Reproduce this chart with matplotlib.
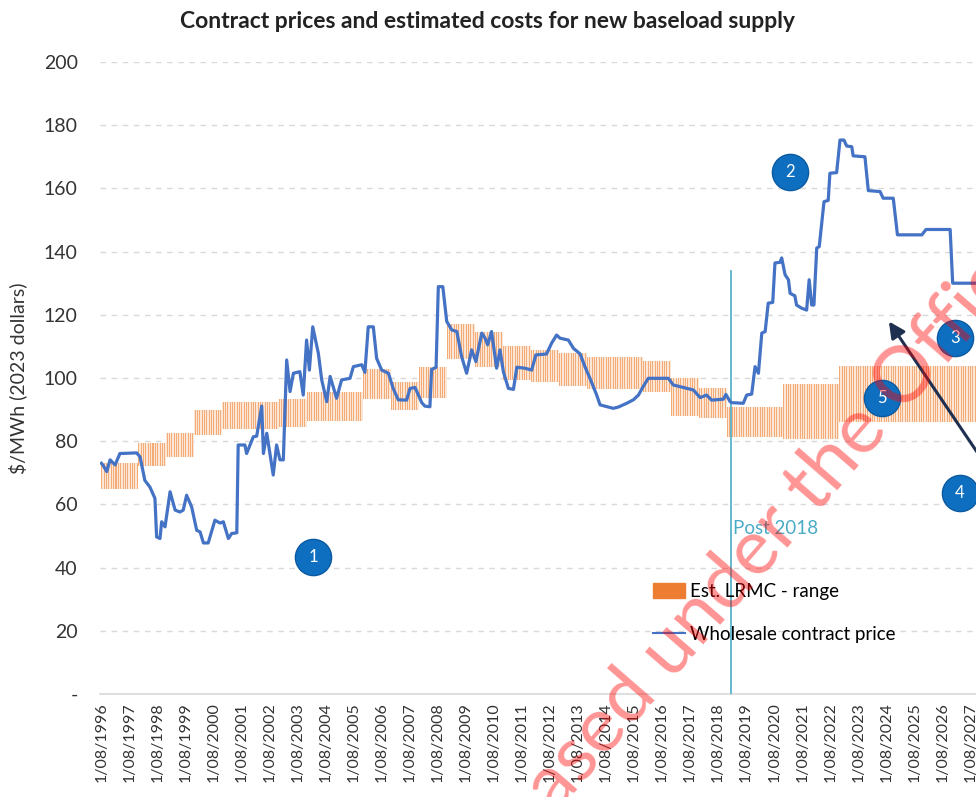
import numpy as np
import matplotlib
matplotlib.use("Agg")
import matplotlib.pyplot as plt
from matplotlib.patches import Patch
from matplotlib.lines import Line2D

plt.rcParams['font.family'] = ['Lato', 'DejaVu Sans']

# ---- wholesale contract price (year as decimal, $/MWh 2023)
price_t = [1996.58, 1996.63, 1996.77, 1996.89, 1997.07, 1997.24, 1997.84, 1997.96, 1998.13, 1998.31,
           1998.49, 1998.55, 1998.67, 1998.73, 1998.85, 1999.03, 1999.21, 1999.38, 1999.50, 1999.62,
           1999.80, 1999.98, 2000.10, 2000.22, 2000.39, 2000.63, 2000.81, 2000.93, 2001.11, 2001.23,
           2001.41, 2001.46, 2001.70, 2001.76, 2002.00, 2002.12, 2002.30, 2002.36, 2002.48, 2002.59,
           2002.71, 2002.83, 2002.95, 2003.07, 2003.19, 2003.31, 2003.43, 2003.66, 2003.78, 2003.90,
           2004.00, 2004.12, 2004.32, 2004.44, 2004.62, 2004.74, 2004.97, 2005.15, 2005.45, 2005.57,
           2005.87, 2005.98, 2006.10, 2006.28, 2006.40, 2006.58, 2006.82, 2006.99, 2007.17, 2007.47,
           2007.59, 2007.77, 2007.89, 2008.01, 2008.12, 2008.30, 2008.36, 2008.52, 2008.60, 2008.76,
           2008.90, 2009.08, 2009.26, 2009.43, 2009.61, 2009.79, 2009.94, 2010.15, 2010.27, 2010.36,
           2010.50, 2010.68, 2010.80, 2010.92, 2011.10, 2011.28, 2011.40, 2011.69, 2011.93, 2012.08,
           2012.46, 2012.64, 2012.82, 2012.94, 2013.24, 2013.42, 2013.66, 2013.83, 2014.01, 2014.25,
           2014.37, 2014.84, 2015.02, 2015.32, 2015.56, 2015.74, 2015.89, 2016.09, 2016.81, 2016.98,
           2017.34, 2017.70, 2017.94, 2018.17, 2018.35, 2018.77, 2018.86, 2019.01, 2019.07, 2019.48,
           2019.60, 2019.78, 2019.90, 2020.02, 2020.14, 2020.26, 2020.37, 2020.53, 2020.61, 2020.79,
           2020.85, 2020.97, 2021.09, 2021.15, 2021.32, 2021.38, 2021.56, 2021.74, 2021.83, 2021.92,
           2022.00, 2022.10, 2022.19, 2022.36, 2022.51, 2022.57, 2022.81, 2022.93, 2023.07, 2023.17,
           2023.35, 2023.40, 2023.82, 2023.94, 2024.36, 2024.47, 2024.83, 2024.98, 2025.85, 2026.00,
           2026.86, 2026.95, 2028.50]
price_v = [73.0, 72.5, 70.4, 74.1, 72.5, 76.1, 76.3, 75.0, 67.6, 65.5,
           61.9, 49.7, 49.2, 54.5, 52.9, 64.0, 58.2, 57.6, 58.2, 62.9,
           59.2, 51.8, 51.3, 47.8, 47.8, 55.0, 54.1, 54.5, 49.2, 50.8,
           51.0, 78.8, 78.8, 76.1, 81.4, 81.6, 91.1, 76.1, 82.5, 76.1,
           69.3, 78.8, 74.1, 74.1, 105.7, 95.7, 101.5, 102.0, 94.6, 112.0,
           102.5, 116.2, 107.8, 99.4, 92.5, 100.5, 93.6, 99.4, 99.9, 103.6,
           104.2, 101.8, 116.2, 116.2, 106.2, 102.5, 101.5, 96.7, 93.1, 93.0,
           96.7, 97.0, 94.6, 92.2, 91.1, 90.9, 102.7, 103.4, 128.9, 128.9,
           117.9, 115.2, 114.7, 106.8, 101.5, 108.9, 105.2, 114.2, 112.6, 110.5,
           114.7, 103.1, 108.9, 102.0, 96.7, 96.4, 103.4, 103.1, 102.5, 107.3,
           107.6, 111.0, 113.6, 112.6, 112.0, 109.4, 107.6, 103.6, 99.9, 94.6,
           91.5, 90.4, 90.8, 92.0, 93.1, 94.6, 97.0, 99.9, 99.9, 97.8,
           97.0, 96.2, 93.8, 94.6, 93.0, 93.3, 94.8, 92.5, 92.2, 92.0,
           94.6, 94.9, 103.6, 101.5, 114.2, 114.7, 123.7, 123.9, 136.4, 136.6,
           138.0, 132.7, 131.1, 126.8, 126.0, 123.1, 122.1, 121.5, 131.1, 123.1,
           123.1, 141.1, 141.6, 155.8, 156.2, 164.8, 165.0, 175.3, 175.3, 173.4,
           173.2, 170.3, 170.0, 159.3, 159.0, 156.9, 156.9, 145.3, 145.3, 147.0,
           147.0, 130.0, 130.0]

# ---- estimated LRMC range, by period
lrmc_start = [1996.58, 1997.9, 1998.9, 1999.9, 2000.9, 2002.9, 2003.9, 2005.9, 2006.9, 2007.9, 2008.9,
              2009.9, 2010.9, 2011.9, 2012.9, 2013.9, 2015.9, 2016.9, 2017.9, 2018.9, 2020.9, 2022.9]
lrmc_end = [1997.9, 1998.9, 1999.9, 2000.9, 2002.9, 2003.9, 2005.9, 2006.9, 2007.9, 2008.9, 2009.9,
            2010.9, 2011.9, 2012.9, 2013.9, 2015.9, 2016.9, 2017.9, 2018.9, 2020.9, 2022.9, 2029.0]
lrmc_low = [65.0, 72.0, 75.0, 82.0, 84.0, 84.5, 86.5, 93.5, 90.0, 93.7, 106.0,
            103.5, 99.5, 98.7, 97.5, 96.5, 95.5, 88.0, 87.3, 81.3, 80.7, 86.0]
lrmc_high = [73.0, 79.5, 82.5, 90.0, 92.5, 93.5, 95.5, 103.0, 98.7, 103.5, 117.0,
             114.5, 110.0, 109.0, 108.0, 106.5, 105.5, 100.0, 96.8, 90.8, 98.0, 103.8]

tick_years = list(range(1996, 2029))
tick_labels = ["1/08/%d" % y for y in tick_years]

callout_t = [2004.13, 2021.14, 2027.03, 2027.20, 2024.43]
callout_v = [43.4, 165.2, 112.7, 63.6, 93.7]
callout_txt = ["1", "2", "3", "4", "5"]

post_t = 2019.04
post_top = 134

fig = plt.figure(figsize=(9.76, 7.97), dpi=100)
# axes run past the right edge of the picture (it is cropped)
ax = fig.add_axes([100/976, 103/797, 960/976, 632/797])

# stripes of the LRMC band
for s, e, lo, hi in zip(lrmc_start, lrmc_end, lrmc_low, lrmc_high):
    ax.fill_between([s, e], lo, hi, color='#FCE6D6', lw=0, zorder=1)
    xs = np.arange(s + 1/48, e, 1/12)
    ax.bar(xs, hi - lo, bottom=lo, width=1/28, color='#F3AB78', lw=0, zorder=2)

ax.plot(price_t, price_v, color='#4472C4', lw=2.3, zorder=4)

ax.plot([post_t, post_t], [0, post_top], color='#4BACC6', lw=1.2, zorder=3)
ax.text(post_t + 0.08, 52.5, "Post 2018", color='#4BACC6', fontsize=13.5, va='center')

# numbered callouts
ax.scatter(callout_t, callout_v, s=680, color='#0E6FC1', edgecolor='#0B5AA0', zorder=6)
for t, v, s in zip(callout_t, callout_v, callout_txt):
    ax.text(t, v, s, color='white', fontsize=12, ha='center', va='center', zorder=7)

ax.annotate("", xy=(2024.62, 118.6), xytext=(2028.7, 65.0),
            arrowprops=dict(arrowstyle='-|>', color='#1F2F4F', lw=2.2, mutation_scale=24),
            zorder=5)

ax.set_xlim(1996.53, 1996.53 + 960/28.03)
ax.set_ylim(0, 200)
ax.set_yticks(range(0, 201, 20))
ax.set_yticklabels(["-"] + [str(v) for v in range(20, 201, 20)], fontsize=14, color='#333333')
ax.set_xticks([y + 7/12 for y in tick_years])
ax.set_xticklabels(tick_labels, rotation=90, fontsize=11.5, color='#333333')
ax.tick_params(length=0, pad=6)
ax.tick_params(axis='y', pad=16)
ax.grid(axis='y', color='#D9D9D9', ls=(0, (4, 4)), lw=1)
ax.set_axisbelow(True)
for side in ['top', 'right', 'left']:
    ax.spines[side].set_visible(False)
ax.spines['bottom'].set_color('#D9D9D9')
ax.spines['bottom'].set_linewidth(1.2)

ax.set_ylabel("$/MWh (2023 dollars)", fontsize=14, color='#333333', labelpad=12)

fig.text(488/976, 1 - 22/797, "Contract prices and estimated costs for new baseload supply",
         fontsize=16.5, fontweight='bold', ha='center', va='center', color='#222222')

handles = [Patch(color='#ED7D31'), Line2D([0], [0], color='#4472C4', lw=1.5)]
fig.legend(handles, ["Est. LRMC - range", "Wholesale contract price"], loc='upper left',
           bbox_to_anchor=(636/976, 1 - 566/797), frameon=False, fontsize=13.5,
           handlelength=1.7, handleheight=0.9, handletextpad=0.3, labelspacing=1.35)

# watermark
fig.text(458/976, 1 - 927/797, "Released under the Official Information Act", fontsize=56,
         color='#FF0000', alpha=0.42, rotation=49, rotation_mode='anchor',
         ha='left', va='baseline', zorder=10)

fig.savefig("out.png", dpi=100)
